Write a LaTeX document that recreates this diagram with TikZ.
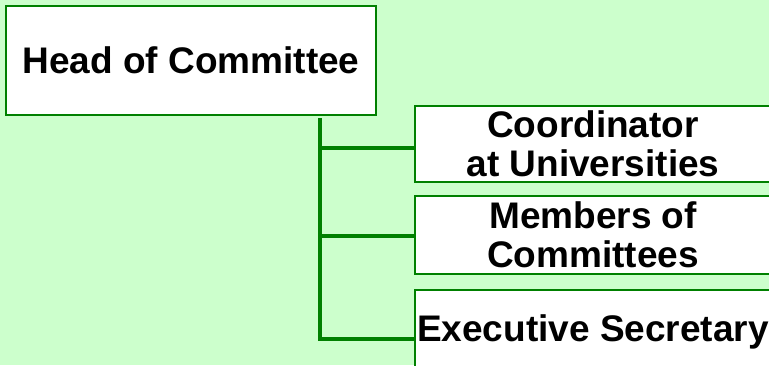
\documentclass[tikz,border=0pt]{standalone}
\usepackage{fontspec}
\setmainfont{Liberation Sans}
\definecolor{bggreen}{HTML}{CCFFCC}
\definecolor{linegreen}{HTML}{008000}
\begin{document}
\begin{tikzpicture}[
  x=0.5pt, y=-0.5pt,
  box/.style={rectangle, draw=linegreen, line width=1pt, fill=white, align=center,
    inner sep=0pt, font=\fontsize{18.5}{19.5}\selectfont\bfseries},
  member/.style={box, minimum width=178pt, minimum height=39pt},
  branch/.style={draw=linegreen, line width=2pt}
]
  \fill[bggreen] (0,0) rectangle (769,365);
  \useasboundingbox (0,0) rectangle (769,365);
  \node[box, minimum width=185pt, minimum height=54.5pt] (head) at (191,60.5) {Head of Committee};
  \node[member, minimum height=38pt] (coord) at (593,144) {Coordinator\\at Universities};
  \node[member] (members) at (593,235) {Members of\\Committees};
  \node[member, minimum height=42pt] (secretary) at (593,332) {Executive Secretary};

  \coordinate (trunk) at ([xshift=-28.5pt,yshift=-1pt]head.south east);
  \coordinate (b1) at ([yshift=-2pt]coord.west);
  \coordinate (b2) at ([yshift=-0.5pt]members.west);
  \coordinate (b3) at ([yshift=-3.5pt]secretary.west);
  \draw[branch] (trunk) |- (b3);
  \draw[branch] (trunk |- b1) -- (b1);
  \draw[branch] (trunk |- b2) -- (b2);
\end{tikzpicture}
\end{document}
